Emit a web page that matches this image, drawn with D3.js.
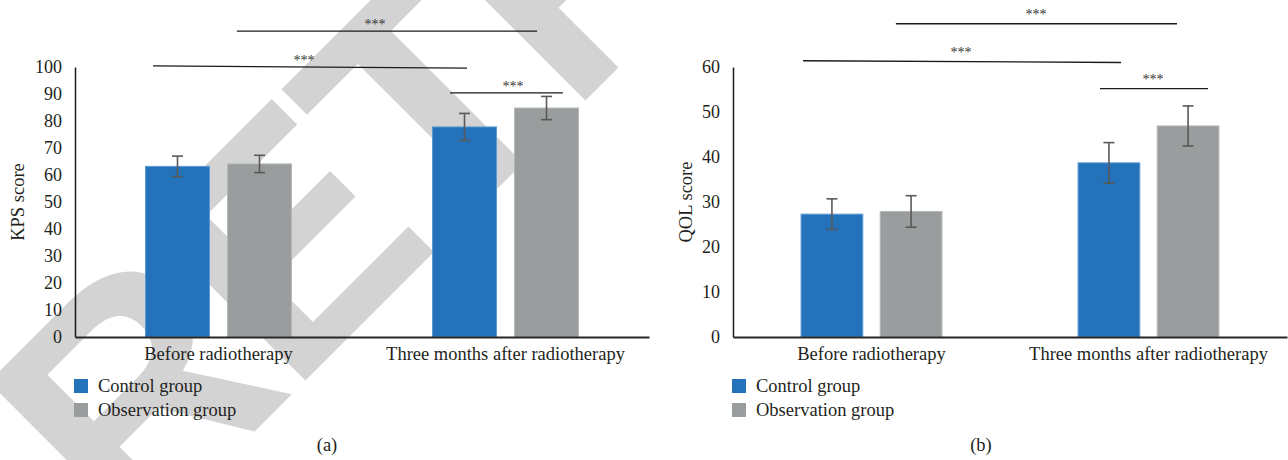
<!DOCTYPE html>
<html>
<head>
<meta charset="utf-8">
<script src="https://cdn.jsdelivr.net/npm/d3@7/dist/d3.min.js"></script>
<style>
  body { margin: 0; background: #fff; }
  svg text { font-family: "Liberation Serif", "Times New Roman", serif; fill: #231f20; }
</style>
</head>
<body>
<div class="grafico"></div>
<script>
// datos
const categorias = ["Before radiotherapy", "Three months after radiotherapy"];
const series = ["Control group", "Observation group"];

const kpsControl = [63.2, 77.8];
const kpsControlErr = [3.8, 5.0];
const kpsObservacion = [64.1, 84.8];
const kpsObservacionErr = [3.2, 4.3];
const kpsTicks = [0, 10, 20, 30, 40, 50, 60, 70, 80, 90, 100];

const qolControl = [27.3, 38.7];
const qolControlErr = [3.4, 4.5];
const qolObservacion = [27.9, 46.9];
const qolObservacionErr = [3.5, 4.45];
const qolTicks = [0, 10, 20, 30, 40, 50, 60];

// lineas de significancia: x en unidades de categoria (0..2), y en unidades de puntaje
const kpsSig = [
  { x1: 0.564, x2: 1.610, y1: 113.3, y2: 113.3, lx: 1.045, texto: "***" },
  { x1: 0.272, x2: 1.366, y1: 100.4, y2: 99.6, lx: 0.798, texto: "***" },
  { x1: 1.307, x2: 1.700, y1: 90.4, y2: 90.4, lx: 1.526, texto: "***" }
];
const qolSig = [
  { x1: 0.588, x2: 1.603, y1: 69.6, y2: 69.6, lx: 1.094, texto: "***" },
  { x1: 0.253, x2: 1.401, y1: 61.4, y2: 61.0, lx: 0.823, texto: "***" },
  { x1: 1.325, x2: 1.715, y1: 55.2, y2: 55.2, lx: 1.516, texto: "***" }
];

const colores = ["#2372ba", "#9a9d9e"];
const bordes = ["#5b9bd5", "#b4b6b7"];

var width = 1288;
var height = 460;

var svg = d3.select(".grafico")
  .append("svg")
  .attr("width", width)
  .attr("height", height);

svg.append("rect")
  .attr("width", width)
  .attr("height", height)
  .attr("fill", "#fff");

// marca de agua
svg.append("text")
  .attr("transform", "translate(131,555) rotate(-45)")
  .style("font-family", "'Liberation Sans', Arial, sans-serif")
  .style("font-weight", "bold")
  .style("font-size", "324px")
  .style("letter-spacing", "-9px")
  .style("fill", "#d3d3d3")
  .text("RETRACTED");

function dibujarPanel(cfg) {
  var g = svg.append("g");

  var x0 = d3.scaleBand()
    .domain(categorias)
    .range([cfg.izq, cfg.der])
    .padding(0);

  var x1 = d3.scaleBand()
    .domain(series)
    .range([0, x0.bandwidth()])
    .paddingInner(0.22)
    .paddingOuter(0.86);

  var y = d3.scaleLinear()
    .domain([0, cfg.max])
    .range([337, 67]);

  var xPos = d3.scaleLinear()
    .domain([0, categorias.length])
    .range([cfg.izq, cfg.der]);

  var filas = [];
  categorias.forEach(function(c, i) {
    series.forEach(function(s, j) {
      filas.push({ cat: c, serie: s, j: j, valor: cfg.valores[j][i], err: cfg.errores[j][i] });
    });
  });

  // barras
  g.selectAll(".barra")
    .data(filas)
    .enter()
    .append("rect")
    .attr("x", function(d) { return x0(d.cat) + x1(d.serie); })
    .attr("y", function(d) { return y(d.valor); })
    .attr("width", x1.bandwidth())
    .attr("height", function(d) { return y(0) - y(d.valor); })
    .attr("fill", function(d) { return colores[d.j]; })
    .attr("stroke", function(d) { return bordes[d.j]; })
    .attr("stroke-width", 1);

  // barras de error
  var eb = g.selectAll(".err")
    .data(filas)
    .enter()
    .append("g")
    .attr("stroke", "#595959")
    .attr("stroke-width", 1.6);

  var cx = function(d) { return x0(d.cat) + x1(d.serie) + x1.bandwidth() / 2; };

  eb.append("line")
    .attr("x1", cx).attr("x2", cx)
    .attr("y1", function(d) { return y(d.valor + d.err); })
    .attr("y2", function(d) { return y(d.valor - d.err); });

  eb.append("line")
    .attr("x1", function(d) { return cx(d) - 5.5; })
    .attr("x2", function(d) { return cx(d) + 5.5; })
    .attr("y1", function(d) { return y(d.valor + d.err); })
    .attr("y2", function(d) { return y(d.valor + d.err); });

  eb.append("line")
    .attr("x1", function(d) { return cx(d) - 5.5; })
    .attr("x2", function(d) { return cx(d) + 5.5; })
    .attr("y1", function(d) { return y(d.valor - d.err); })
    .attr("y2", function(d) { return y(d.valor - d.err); });

  // eje Y
  var ejeY = g.append("g")
    .attr("transform", "translate(" + cfg.izq + ",0)")
    .call(d3.axisLeft(y).tickValues(cfg.ticks).tickSize(0).tickPadding(13));
  ejeY.select(".domain").attr("stroke", "#1a1a1a").attr("stroke-width", 1.5);
  ejeY.selectAll("text").style("font-size", "18px").style("font-family", "'Liberation Serif', serif").attr("fill", "#231f20");

  // eje X
  var ejeX = g.append("g")
    .attr("transform", "translate(0," + y(0) + ")")
    .call(d3.axisBottom(x0).tickSize(0).tickPadding(10));
  ejeX.select(".domain").attr("stroke", "#262626").attr("stroke-width", 2);
  ejeX.selectAll("text").style("font-size", "18.5px").style("font-family", "'Liberation Serif', serif").attr("fill", "#231f20");

  // titulo eje Y
  g.append("text")
    .attr("transform", "translate(" + cfg.tituloX + "," + (y(0) + y(cfg.max)) / 2 + ") rotate(-90)")
    .attr("text-anchor", "middle")
    .attr("dominant-baseline", "central")
    .style("font-size", "18.5px")
    .text(cfg.titulo);

  // significancia
  var sig = g.selectAll(".sig")
    .data(cfg.sig)
    .enter()
    .append("g");

  sig.append("line")
    .attr("x1", function(d) { return xPos(d.x1); })
    .attr("x2", function(d) { return xPos(d.x2); })
    .attr("y1", function(d) { return y(d.y1); })
    .attr("y2", function(d) { return y(d.y2); })
    .attr("stroke", "#1a1a1a")
    .attr("stroke-width", 1.4);

  sig.append("text")
    .attr("x", function(d) { return xPos(d.lx); })
    .attr("y", function(d) { return y((d.y1 + d.y2) / 2) - cfg.sepSig; })
    .attr("text-anchor", "middle")
    .attr("dominant-baseline", "central")
    .style("font-size", "14px")
    .style("fill", "#333")
    .text(function(d) { return d.texto; });

  // leyenda
  var ley = g.selectAll(".ley")
    .data(series)
    .enter()
    .append("g")
    .attr("transform", function(d, i) { return "translate(" + (cfg.izq - 1) + "," + (379 + i * 24) + ")"; });

  ley.append("rect")
    .attr("width", 14)
    .attr("height", 14)
    .attr("fill", function(d, i) { return colores[i]; });

  ley.append("text")
    .attr("x", 24)
    .attr("y", 7)
    .attr("dominant-baseline", "central")
    .style("font-size", "18.5px")
    .text(function(d) { return d; });

  // rotulo del panel
  g.append("text")
    .attr("x", cfg.rotuloX)
    .attr("y", 445)
    .attr("text-anchor", "middle")
    .attr("dominant-baseline", "central")
    .style("font-size", "18.5px")
    .text(cfg.rotulo);
}

dibujarPanel({
  izq: 75, der: 649, max: 100,
  valores: [kpsControl, kpsObservacion],
  errores: [kpsControlErr, kpsObservacionErr],
  ticks: kpsTicks,
  sig: kpsSig, sepSig: 6.5,
  titulo: "KPS score", tituloX: 18,
  rotulo: "(a)", rotuloX: 327
});

dibujarPanel({
  izq: 733, der: 1287, max: 60,
  valores: [qolControl, qolObservacion],
  errores: [qolControlErr, qolObservacionErr],
  ticks: qolTicks,
  sig: qolSig, sepSig: 9,
  titulo: "QOL score", tituloX: 686,
  rotulo: "(b)", rotuloX: 981
});
</script>
</body>
</html>
